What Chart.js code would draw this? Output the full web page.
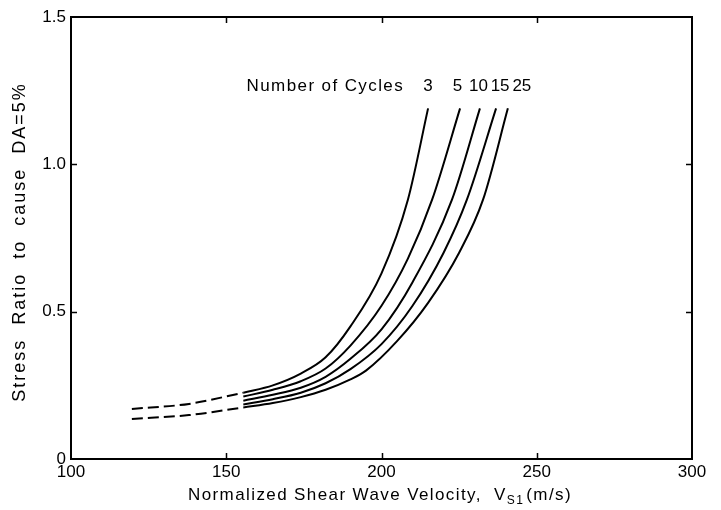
<!DOCTYPE html>
<html>
<head>
<meta charset="utf-8">
<script src="https://cdn.jsdelivr.net/npm/chart.js@4/dist/chart.umd.min.js"></script>
<style>
  html, body { margin: 0; padding: 0; background: #fff; }
  #wrap { width: 721px; height: 510px; }
</style>
</head>
<body>
<div id="wrap"><canvas id="c" width="721" height="510"></canvas></div>
<script>
// ---- data ----
const cycleLabels = ['3', '5', '10', '15', '25'];
const xTicks = [100, 150, 200, 250, 300];
const yTicks = [0, 0.5, 1.0, 1.5];

const vs_N3  = [155.5, 165, 174, 182, 190, 200, 208.5, 215];
const sr_N3  = [0.225, 0.250, 0.290, 0.345, 0.450, 0.630, 0.880, 1.190];
const vs_N5  = [155.5, 165, 174, 182, 190, 200, 208.5, 216.3, 225.3];
const sr_N5  = [0.212, 0.235, 0.264, 0.307, 0.385, 0.520, 0.680, 0.880, 1.190];
const vs_N10 = [155.5, 165, 174, 182, 190, 200, 210, 222.7, 231.7];
const sr_N10 = [0.198, 0.218, 0.242, 0.279, 0.340, 0.440, 0.600, 0.880, 1.190];
const vs_N15 = [155.5, 165, 174, 182, 190, 200, 210, 220, 227.5, 236.9];
const sr_N15 = [0.185, 0.203, 0.225, 0.257, 0.305, 0.390, 0.520, 0.700, 0.880, 1.190];
const vs_N25 = [155.5, 165, 174, 182, 190, 195, 205, 215, 225, 232.7, 240.7];
const sr_N25 = [0.175, 0.190, 0.210, 0.235, 0.270, 0.300, 0.400, 0.530, 0.700, 0.880, 1.190];

const vs_dashUpper = [119.6, 138, 155.5];
const sr_dashUpper = [0.170, 0.187, 0.225];
const vs_dashLower = [119.6, 138, 155.5];
const sr_dashLower = [0.136, 0.149, 0.175];

// x positions (data units) of the cycle count labels above the curve tops
const cycleLabelVs = [215, 224.5, 231.2, 238.2, 245.2];
const cycleLabelSr = 1.265;

// ---- build ----
const pts = (xs, ys) => xs.map((x, i) => ({ x: x, y: ys[i] }));
const solid = (xs, ys, name) => ({
  label: name, data: pts(xs, ys), borderColor: '#000', borderWidth: 2,
  pointRadius: 0, fill: false, cubicInterpolationMode: 'monotone'
});
const dashed = (xs, ys, name) => ({
  label: name, data: pts(xs, ys), borderColor: '#000', borderWidth: 2,
  borderDash: [11, 5], pointRadius: 0, fill: false, cubicInterpolationMode: 'monotone'
});

const FONT = '"Liberation Sans", Arial, Helvetica, sans-serif';
const SP = '1.4px';

const setSpacing = (ctx, v) => { try { ctx.letterSpacing = v; } catch (e) {} };

const framePlugin = {
  id: 'frame',
  afterDraw(chart) {
    const { ctx, chartArea: a, scales } = chart;
    const xs = scales.x, ys = scales.y;
    ctx.save();
    ctx.strokeStyle = '#000';
    ctx.lineWidth = 2;
    ctx.strokeRect(a.left, a.top, a.right - a.left, a.bottom - a.top);
    ctx.lineWidth = 1.5;
    const tl = 6;
    [150, 200, 250].forEach(v => {
      const px = Math.round(xs.getPixelForValue(v)) + 0.5;
      ctx.beginPath();
      ctx.moveTo(px, a.bottom); ctx.lineTo(px, a.bottom - tl);
      ctx.moveTo(px, a.top); ctx.lineTo(px, a.top + tl);
      ctx.stroke();
    });
    [0.5, 1.0].forEach(v => {
      const py = Math.round(ys.getPixelForValue(v)) + 0.5;
      ctx.beginPath();
      ctx.moveTo(a.left, py); ctx.lineTo(a.left + tl, py);
      ctx.moveTo(a.right, py); ctx.lineTo(a.right - tl, py);
      ctx.stroke();
    });

    ctx.fillStyle = '#000';

    // annotation: number of cycles
    setSpacing(ctx, SP);
    ctx.font = '17px ' + FONT;
    ctx.textBaseline = 'middle';
    const ly = ys.getPixelForValue(cycleLabelSr);
    ctx.textAlign = 'right';
    ctx.fillText('Number of Cycles', xs.getPixelForValue(cycleLabelVs[0]) - 24, ly);
    setSpacing(ctx, '0px');
    ctx.textAlign = 'center';
    cycleLabels.forEach((t, i) => ctx.fillText(t, xs.getPixelForValue(cycleLabelVs[i]), ly));

    // x axis title with subscript
    setSpacing(ctx, SP);
    const main = 'Normalized Shear Wave Velocity,  V';
    const sub = 'S1';
    const tail = '(m/s)';
    ctx.textAlign = 'left';
    ctx.textBaseline = 'alphabetic';
    ctx.font = '17px ' + FONT;
    const wMain = ctx.measureText(main).width;
    const wTail = ctx.measureText(tail).width;
    ctx.font = '12px ' + FONT;
    const wSub = ctx.measureText(sub).width + 2;
    const total = wMain + wSub + wTail;
    const cx = 380;
    let x0 = cx - total / 2;
    const by = 500;
    ctx.font = '17px ' + FONT;
    ctx.fillText(main, x0, by);
    ctx.font = '12px ' + FONT;
    ctx.fillText(sub, x0 + wMain, by + 4);
    ctx.font = '17px ' + FONT;
    ctx.fillText(tail, x0 + wMain + wSub, by);

    // y axis title
    ctx.save();
    setSpacing(ctx, '2px');
    ctx.translate(20, 242);
    ctx.rotate(-Math.PI / 2);
    ctx.textAlign = 'center';
    ctx.textBaseline = 'middle';
    ctx.font = '18px ' + FONT;
    ctx.fillText('Stress  Ratio  to  cause  DA=5%', 0, 0);
    ctx.restore();

    ctx.restore();
  }
};

new Chart(document.getElementById('c'), {
  type: 'line',
  data: {
    datasets: [
      solid(vs_N3, sr_N3, 'N=' + cycleLabels[0]),
      solid(vs_N5, sr_N5, 'N=' + cycleLabels[1]),
      solid(vs_N10, sr_N10, 'N=' + cycleLabels[2]),
      solid(vs_N15, sr_N15, 'N=' + cycleLabels[3]),
      solid(vs_N25, sr_N25, 'N=' + cycleLabels[4]),
      dashed(vs_dashUpper, sr_dashUpper, 'extrap upper'),
      dashed(vs_dashLower, sr_dashLower, 'extrap lower')
    ]
  },
  options: {
    responsive: false,
    animation: false,
    layout: { padding: { top: 17, right: 29, left: 0, bottom: 0 } },
    plugins: { legend: { display: false }, tooltip: { enabled: false } },
    scales: {
      x: {
        type: 'linear', min: 100, max: 300,
        afterBuildTicks: s => { s.ticks = xTicks.map(v => ({ value: v })); },
        ticks: { color: '#000', font: { family: FONT, size: 17 }, padding: 3, maxRotation: 0 },
        grid: { display: false, drawTicks: false },
        border: { display: false },
        afterFit: s => { s.height = 51; }
      },
      y: {
        type: 'linear', min: 0, max: 1.5,
        afterBuildTicks: s => { s.ticks = yTicks.map(v => ({ value: v })); },
        ticks: { color: '#000', font: { family: FONT, size: 17 }, padding: 5,
                 callback: v => v === 0 ? '0' : v.toFixed(1) },
        grid: { display: false, drawTicks: false },
        border: { display: false },
        afterFit: s => { s.width = 71; }
      }
    }
  },
  plugins: [framePlugin]
});
</script>
</body>
</html>
